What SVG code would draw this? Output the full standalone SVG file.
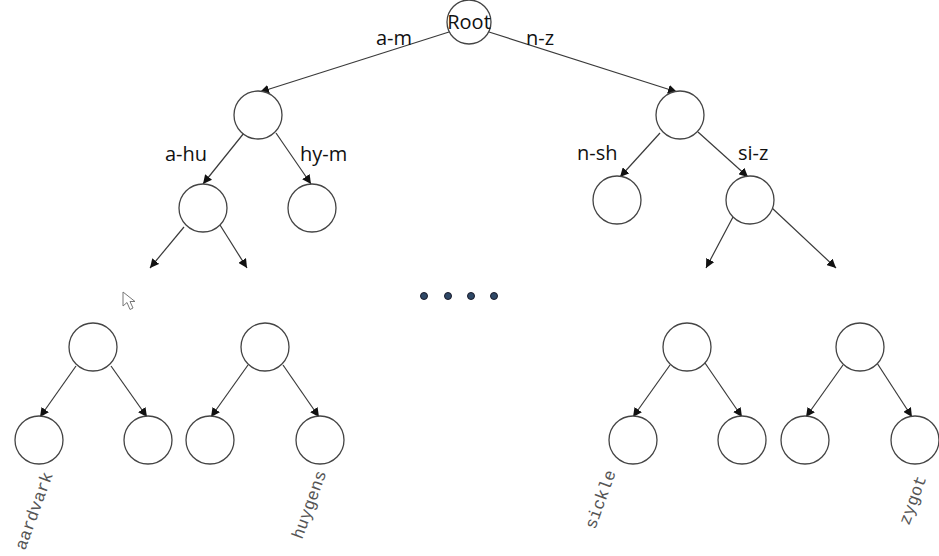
<svg xmlns="http://www.w3.org/2000/svg" width="939" height="556" viewBox="0 0 939 556">
<defs>
<marker id="ah" viewBox="0 0 10 10" refX="10" refY="5" markerWidth="9" markerHeight="9" markerUnits="userSpaceOnUse" orient="auto">
<path d="M0,0 L10,5 L0,10 Z" fill="#111"/>
</marker>
</defs>
<style>
.n{fill:#fff;stroke:#444;stroke-width:1.3}
.e{stroke:#3a3a3a;stroke-width:1.2;fill:none;marker-end:url(#ah)}
.lb{font-family:"Open Sans","Liberation Sans",sans-serif;font-size:20px;fill:#111}
.lf{font-family:"Liberation Mono",monospace;font-size:17px;fill:#555}
.dot{fill:#2e4866;stroke:#1a1a2a;stroke-width:1}
</style>
<rect width="939" height="556" fill="#fff"/>
<g id="connectors">
<line class="e" x1="449" y1="32" x2="260" y2="92"/>
<line class="e" x1="489" y1="32" x2="677" y2="92"/>
<line class="e" x1="244" y1="133" x2="203" y2="184"/>
<line class="e" x1="276" y1="133" x2="311" y2="184"/>
<line class="e" x1="184" y1="227" x2="150" y2="268"/>
<line class="e" x1="220" y1="225" x2="247" y2="268"/>
<line class="e" x1="660" y1="133" x2="620" y2="177"/>
<line class="e" x1="698" y1="132" x2="748" y2="177"/>
<line class="e" x1="733" y1="217" x2="706" y2="268"/>
<line class="e" x1="772" y1="208" x2="836" y2="268"/>
<line class="e" x1="76" y1="366" x2="40" y2="417"/>
<line class="e" x1="111" y1="366" x2="147" y2="417"/>
<line class="e" x1="248" y1="365" x2="211" y2="417"/>
<line class="e" x1="283" y1="365" x2="319" y2="417"/>
<line class="e" x1="670" y1="365" x2="633" y2="417"/>
<line class="e" x1="705" y1="363" x2="742" y2="417"/>
<line class="e" x1="843" y1="365" x2="806" y2="417"/>
<line class="e" x1="877" y1="363" x2="912" y2="417"/>
</g>
<g id="root"><circle class="n" cx="469" cy="22" r="22"/><text class="lb" x="469" y="29" text-anchor="middle">Root</text></g>
<g id="lbl-am"><text class="lb" x="376" y="45">a-m</text></g>
<g id="lbl-nz"><text class="lb" x="526" y="45">n-z</text></g>
<g id="n-l1"><circle class="n" cx="258" cy="115" r="24"/></g>
<g id="n-r1"><circle class="n" cx="680" cy="115" r="24"/></g>
<g id="lbl-ahu"><text class="lb" x="165" y="161">a-hu</text></g>
<g id="lbl-hym"><text class="lb" x="300" y="161">hy-m</text></g>
<g id="lbl-nsh"><text class="lb" x="577" y="160">n-sh</text></g>
<g id="lbl-siz"><text class="lb" x="738" y="160">si-z</text></g>
<g id="n-ll"><circle class="n" cx="203" cy="208" r="24"/></g>
<g id="n-lr"><circle class="n" cx="312" cy="208" r="24"/></g>
<g id="n-rl"><circle class="n" cx="617" cy="200" r="24"/></g>
<g id="n-rr"><circle class="n" cx="750" cy="200" r="24"/></g>
<g id="dots"><circle class="dot" cx="424" cy="296" r="3.5"/><circle class="dot" cx="448" cy="296" r="3.5"/><circle class="dot" cx="471" cy="296" r="3.5"/><circle class="dot" cx="494" cy="296" r="3.5"/></g>
<g id="cursor"><path d="M123,292 L123,306 L127,302.5 L130,309.5 L133,308 L130,301.5 L135,301.5 Z" fill="#fff" stroke="#777" stroke-width="1"/></g>
<g id="s1"><circle class="n" cx="93" cy="347" r="24"/><circle class="n" cx="39" cy="440" r="24"/><circle class="n" cx="148" cy="440" r="24"/></g>
<g id="s2"><circle class="n" cx="265" cy="347" r="24"/><circle class="n" cx="210" cy="440" r="24"/><circle class="n" cx="320" cy="440" r="24"/></g>
<g id="s3"><circle class="n" cx="687" cy="347" r="24"/><circle class="n" cx="633" cy="440" r="24"/><circle class="n" cx="742" cy="440" r="24"/></g>
<g id="s4"><circle class="n" cx="860" cy="347" r="24"/><circle class="n" cx="805" cy="440" r="24"/><circle class="n" cx="915" cy="440" r="24"/></g>
<g id="leaf-labels">
<text class="lf" transform="translate(25,551) rotate(-70)">aardvark</text>
<text class="lf" transform="translate(302,540) rotate(-70)">huygens</text>
<text class="lf" transform="translate(595,530) rotate(-70)">sickle</text>
<text class="lf" transform="translate(909,526) rotate(-70)">zygot</text>
</g>
</svg>
